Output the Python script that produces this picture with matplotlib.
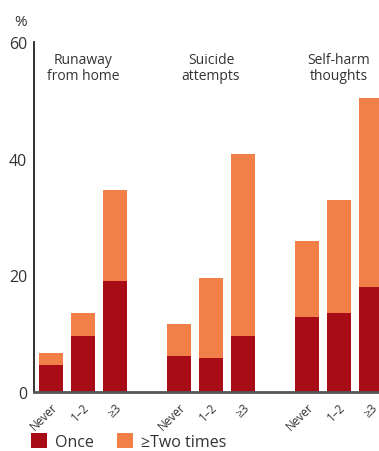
import matplotlib
matplotlib.use('Agg')
import matplotlib.pyplot as plt
import numpy as np

# data (%)
groups = ['Runaway\nfrom home', 'Suicide\nattempts', 'Self-harm\nthoughts']
categories = ['Never', '1–2', '≥3']
once = [4.6, 9.5, 19.0,
        6.1, 5.8, 9.5,
        12.8, 13.5, 18.0]
total = [6.6, 13.5, 34.6,
         11.6, 19.5, 40.7,
         25.8, 32.9, 50.4]
two_plus = [t - o for t, o in zip(total, once)]
yticks = [0, 20, 40, 60]

dark_red = '#a80c16'
orange = '#f07f48'
text_col = '#333333'

plt.rcParams['font.family'] = ['Open Sans', 'DejaVu Sans']

fig = plt.figure(figsize=(3.79, 4.52), dpi=100)
ax = fig.add_axes([0.0897, 0.131, 0.9103, 0.774])

x = []
for g in range(len(groups)):
    for c in range(len(categories)):
        x.append(g * 4 + c)
x = np.array(x)

ax.bar(x, once, width=0.75, color=dark_red, label='Once')
ax.bar(x, two_plus, width=0.75, bottom=once, color=orange, label='≥Two times')

ax.set_xlim(-0.53, 10.25)
ax.set_ylim(0, 60)
ax.set_yticks(yticks)
ax.set_yticklabels([str(v) for v in yticks], fontsize=11.5, color=text_col)
ax.tick_params(axis='y', length=0, pad=5)

ax.set_xticks(x)
ax.set_xticklabels(categories * len(groups), rotation=45, ha='right',
                   rotation_mode='anchor', fontsize=8.5, color=text_col)
ax.tick_params(axis='x', length=0, pad=6)

for s in ['top', 'right']:
    ax.spines[s].set_visible(False)
ax.spines['left'].set_color('#222222')
ax.spines['left'].set_linewidth(1.3)
ax.spines['bottom'].set_color('#555555')
ax.spines['bottom'].set_linewidth(2)

for g, name in enumerate(groups):
    ax.text(g * 4 + 1, 58.3, name, ha='center', va='top', fontsize=10,
            color=text_col, linespacing=1.1)

ax.annotate('%', xy=(0, 1), xycoords='axes fraction', xytext=(-10, 9),
            textcoords='offset points', ha='center', va='bottom',
            fontsize=11, color=text_col)

fig.legend(loc='lower left', bbox_to_anchor=(0.045, -0.03), ncol=2,
           frameon=False, fontsize=11.5, handlelength=1.0, handleheight=1.1,
           columnspacing=1.4, handletextpad=0.5, labelcolor=text_col)

plt.savefig('out.png', dpi=100)
